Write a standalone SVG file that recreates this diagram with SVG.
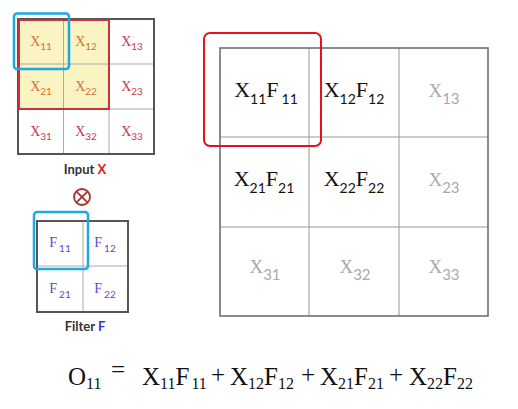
<svg xmlns="http://www.w3.org/2000/svg" width="518" height="409" viewBox="0 0 518 409">
<style>
.sx{font-family:"Liberation Serif",serif;font-size:14px;text-anchor:middle}
.sub{font-family:"Lato","Liberation Sans",sans-serif}
.or{fill:#d6703c}
.rd{fill:#c8374f}
.pf{fill:#6248c4}
.bg{font-family:"Liberation Serif",serif;font-size:22px;text-anchor:middle;fill:#111}
.gr{font-family:"Liberation Serif",serif;font-size:19px;text-anchor:middle;fill:#aaaaaa}
.eq{font-family:"Liberation Serif",serif;font-size:25px;fill:#111}
.lbl{font-family:"Lato","Liberation Sans",sans-serif;font-size:13px;font-weight:bold;text-anchor:middle;fill:#333}
.inner{stroke:#aaaaaa;stroke-width:1;fill:none}
.outer{stroke:#555;stroke-width:2;fill:none}
.blue{stroke:#1ea7e1;stroke-width:2.5;fill:none}
</style>
<rect width="518" height="409" fill="#ffffff"/>

<g id="input-x">
  <rect x="18" y="19" width="136" height="135" fill="#ffffff"/>
  <rect x="18" y="19" width="91" height="90" fill="#faf3c2"/>
  <line class="inner" x1="63.5" y1="19" x2="63.5" y2="154"/>
  <line class="inner" x1="109" y1="19" x2="109" y2="154"/>
  <line class="inner" x1="18" y1="64" x2="154" y2="64"/>
  <line class="inner" x1="18" y1="109" x2="154" y2="109"/>
  <rect class="outer" x="18" y="19" width="136" height="135"/>
  <rect x="19" y="20" width="90" height="89" fill="none" stroke="#c8323c" stroke-width="2"/>
  <text class="sx or" x="41" y="46">X<tspan class="sub" font-size="10" dy="4">11</tspan></text>
  <text class="sx or" x="86" y="46">X<tspan class="sub" font-size="10" dy="4">12</tspan></text>
  <text class="sx rd" x="132" y="46">X<tspan class="sub" font-size="10" dy="4">13</tspan></text>
  <text class="sx or" x="41" y="91">X<tspan class="sub" font-size="10" dy="4">21</tspan></text>
  <text class="sx or" x="86" y="91">X<tspan class="sub" font-size="10" dy="4">22</tspan></text>
  <text class="sx rd" x="132" y="91">X<tspan class="sub" font-size="10" dy="4">23</tspan></text>
  <text class="sx rd" x="41" y="136">X<tspan class="sub" font-size="10" dy="4">31</tspan></text>
  <text class="sx rd" x="86" y="136">X<tspan class="sub" font-size="10" dy="4">32</tspan></text>
  <text class="sx rd" x="132" y="136">X<tspan class="sub" font-size="10" dy="4">33</tspan></text>
  <rect class="blue" x="14" y="13.5" width="55" height="55.5" rx="3"/>
  <text class="lbl" x="85" y="174">Input <tspan fill="#d42020">X</tspan></text>
</g>

<g id="otimes">
  <circle cx="82" cy="197" r="8" fill="none" stroke="#a83232" stroke-width="1.8"/>
  <line x1="76.3" y1="191.3" x2="87.7" y2="202.7" stroke="#a83232" stroke-width="1.8"/>
  <line x1="87.7" y1="191.3" x2="76.3" y2="202.7" stroke="#a83232" stroke-width="1.8"/>
</g>

<g id="filter-f">
  <rect x="37" y="221" width="91" height="91" fill="#ffffff"/>
  <line class="inner" x1="83" y1="221" x2="83" y2="312"/>
  <line class="inner" x1="37" y1="266" x2="128" y2="266"/>
  <rect class="outer" x="37" y="221" width="91" height="91"/>
  <text class="sx pf" x="60" y="247">F<tspan class="sub" font-size="10" dx="2" dy="5">11</tspan></text>
  <text class="sx pf" x="105" y="247">F<tspan class="sub" font-size="10" dx="2" dy="5">12</tspan></text>
  <text class="sx pf" x="60" y="293">F<tspan class="sub" font-size="10" dx="2" dy="5">21</tspan></text>
  <text class="sx pf" x="105" y="293">F<tspan class="sub" font-size="10" dx="2" dy="5">22</tspan></text>
  <rect class="blue" x="34" y="212" width="54" height="57" rx="3"/>
  <text class="lbl" x="85" y="331">Filter <tspan fill="#3636c8">F</tspan></text>
</g>

<g id="output-grid">
  <line x1="309" y1="48" x2="309" y2="316" stroke="#999" stroke-width="1"/>
  <line x1="399" y1="48" x2="399" y2="316" stroke="#999" stroke-width="1"/>
  <line x1="220" y1="137" x2="488" y2="137" stroke="#999" stroke-width="1"/>
  <line x1="220" y1="227" x2="488" y2="227" stroke="#999" stroke-width="1"/>
  <rect x="220" y="48" width="268" height="268" fill="none" stroke="#666" stroke-width="1.5"/>
  <text class="bg" x="266" y="97">X<tspan class="sub" font-size="14" dy="7">11</tspan><tspan dy="-7">F</tspan><tspan class="sub" font-size="14" dx="3" dy="7">11</tspan></text>
  <text class="bg" x="354" y="97">X<tspan class="sub" font-size="14" dy="7">12</tspan><tspan dy="-7">F</tspan><tspan class="sub" font-size="14" dy="7">12</tspan></text>
  <text class="gr" x="444" y="97">X<tspan class="sub" font-size="15" dy="7">13</tspan></text>
  <text class="bg" x="264" y="186">X<tspan class="sub" font-size="14" dy="7">21</tspan><tspan dy="-7">F</tspan><tspan class="sub" font-size="14" dy="7">21</tspan></text>
  <text class="bg" x="354" y="186">X<tspan class="sub" font-size="14" dy="7">22</tspan><tspan dy="-7">F</tspan><tspan class="sub" font-size="14" dy="7">22</tspan></text>
  <text class="gr" x="444" y="186">X<tspan class="sub" font-size="15" dy="7">23</tspan></text>
  <text class="gr" x="265" y="273">X<tspan class="sub" font-size="15" dy="7">31</tspan></text>
  <text class="gr" x="355" y="273">X<tspan class="sub" font-size="15" dy="7">32</tspan></text>
  <text class="gr" x="444" y="273">X<tspan class="sub" font-size="15" dy="7">33</tspan></text>
  <rect x="204" y="33" width="117" height="113" rx="6" fill="none" stroke="#e8101c" stroke-width="2"/>
</g>

<g id="equation">
  <text class="eq" x="68" y="385">O<tspan font-size="16" dy="4">11</tspan></text>
  <text class="eq" x="111" y="378" font-size="13">=</text>
  <text class="eq" x="142" y="385">X<tspan font-size="16" dy="4">11</tspan><tspan dy="-4">F</tspan><tspan font-size="16" dx="2" dy="4">11</tspan></text>
  <text class="eq" x="211" y="383" font-size="12">+</text>
  <text class="eq" x="230" y="385">X<tspan font-size="16" dy="4">12</tspan><tspan dy="-4">F</tspan><tspan font-size="16" dy="4">12</tspan></text>
  <text class="eq" x="301" y="383" font-size="12">+</text>
  <text class="eq" x="320" y="385">X<tspan font-size="16" dy="4">21</tspan><tspan dy="-4">F</tspan><tspan font-size="16" dy="4">21</tspan></text>
  <text class="eq" x="389" y="383" font-size="12">+</text>
  <text class="eq" x="409" y="385">X<tspan font-size="16" dy="4">22</tspan><tspan dy="-4">F</tspan><tspan font-size="16" dy="4">22</tspan></text>
</g>
</svg>
